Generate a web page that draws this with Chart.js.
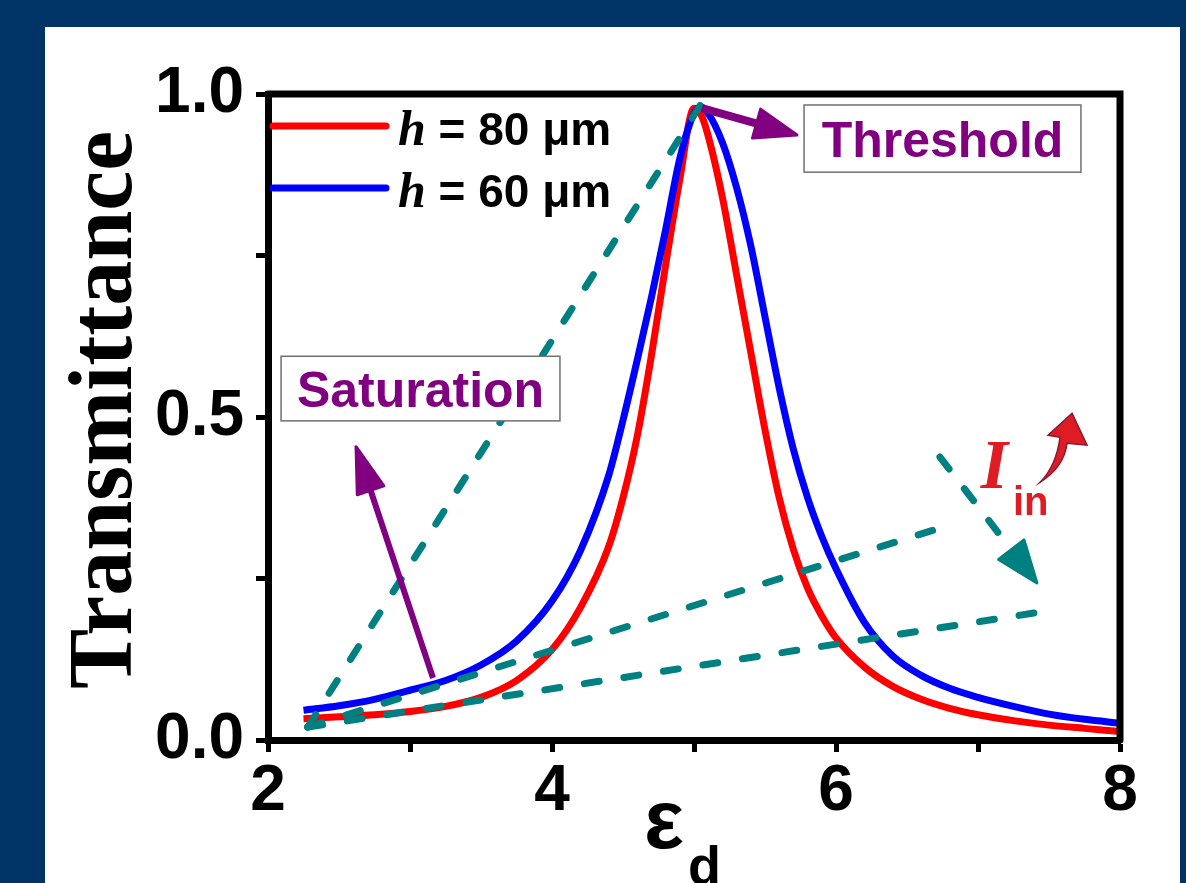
<!DOCTYPE html>
<html>
<head>
<meta charset="utf-8">
<script src="https://cdn.jsdelivr.net/npm/chart.js@4.4.1/dist/chart.umd.min.js"></script>
<style>
  html, body { margin: 0; padding: 0; background: #003366; }
  canvas { display: block; }
</style>
</head>
<body>
<canvas id="chart" width="1186" height="883"></canvas>
<script>
// permittivity of the defect layer (x axis)
const epsD = [2.25, 2.5, 2.75, 3.0, 3.25, 3.5, 3.75, 4.0, 4.2, 4.4, 4.5, 4.6, 4.7, 4.8, 4.9, 5.0, 5.05, 5.1, 5.2, 5.3, 5.4, 5.5, 5.6, 5.7, 5.8, 5.9, 6.0, 6.2, 6.4, 6.6, 6.8, 7.0, 7.25, 7.5, 7.75, 8.0];
// transmittance, h = 80 um
const trans80 = [0.033, 0.036, 0.039, 0.044, 0.052, 0.066, 0.092, 0.140, 0.205, 0.300, 0.375, 0.470, 0.595, 0.735, 0.868, 0.978, 0.968, 0.935, 0.840, 0.720, 0.600, 0.480, 0.375, 0.295, 0.235, 0.192, 0.158, 0.113, 0.083, 0.063, 0.049, 0.039, 0.030, 0.023, 0.018, 0.013];
// transmittance, h = 60 um
const trans60 = [0.046, 0.053, 0.063, 0.077, 0.092, 0.116, 0.153, 0.215, 0.293, 0.410, 0.495, 0.588, 0.685, 0.790, 0.900, 0.970, 0.980, 0.970, 0.925, 0.855, 0.765, 0.655, 0.545, 0.450, 0.375, 0.315, 0.265, 0.182, 0.130, 0.100, 0.080, 0.066, 0.052, 0.040, 0.032, 0.026];

const seriesNames = ['80', '60'];
const xTickLabels = [2, 4, 6, 8];
const yTickLabels = [0, 0.5, 1];

// dashed guide lines, all from one corner
const guideStart = [2.28, 0.02];
const guideEnds = [[5.08, 0.995], [6.775, 0.331], [7.437, 0.198]];

// arrows [x1, y1, x2, y2] in data units
const saturationArrow = [3.162, 0.096, 2.62, 0.454];
const thresholdArrow = [5.056, 0.978, 5.725, 0.9365];
const intensityArrow = [6.732, 0.438, 7.415, 0.243];

const RED = '#ff0000', BLUE = '#0000ff', TEAL = '#008080', PURPLE = '#800080';
const SANS = '"Liberation Sans", Arial, sans-serif';
const SERIF = '"Liberation Serif", "Times New Roman", serif';
const DASH = [15, 25];

function pts(xs, ys) {
  return xs.map((x, i) => ({ x: x, y: ys[i] }));
}

const guideSets = guideEnds.map(e => ({
  data: [{ x: guideStart[0], y: guideStart[1] }, { x: e[0], y: e[1] }],
  borderColor: TEAL,
  borderWidth: 7,
  borderDash: DASH,
  borderCapStyle: 'round',
  pointRadius: 0,
  fill: false
}));

const panelBg = {
  id: 'panelBg',
  beforeDraw(chart) {
    const ctx = chart.ctx;
    ctx.save();
    ctx.fillStyle = '#003366';
    ctx.fillRect(0, 0, chart.width, chart.height);
    ctx.fillStyle = '#ffffff';
    ctx.fillRect(45, 27, 1135, 856);
    ctx.restore();
  }
};

function arrow(ctx, x1, y1, x2, y2, color, width, headLen, headW, dash) {
  const ang = Math.atan2(y2 - y1, x2 - x1);
  const bx = x2 - headLen * Math.cos(ang);
  const by = y2 - headLen * Math.sin(ang);
  ctx.save();
  ctx.strokeStyle = color;
  ctx.fillStyle = color;
  ctx.lineWidth = width;
  if (dash) {
    ctx.setLineDash(dash);
    ctx.lineCap = 'round';
  }
  ctx.beginPath();
  ctx.moveTo(x1, y1);
  ctx.lineTo(bx + 4 * Math.cos(ang), by + 4 * Math.sin(ang));
  ctx.stroke();
  ctx.setLineDash([]);
  ctx.lineJoin = 'round';
  ctx.lineWidth = 3;
  ctx.beginPath();
  ctx.moveTo(x2, y2);
  ctx.lineTo(bx + headW / 2 * Math.sin(ang), by - headW / 2 * Math.cos(ang));
  ctx.lineTo(bx - headW / 2 * Math.sin(ang), by + headW / 2 * Math.cos(ang));
  ctx.closePath();
  ctx.fill();
  ctx.stroke();
  ctx.restore();
}

function labelBox(ctx, text, x1, y1, x2, y2) {
  ctx.save();
  ctx.fillStyle = '#ffffff';
  ctx.fillRect(x1, y1, x2 - x1, y2 - y1);
  ctx.strokeStyle = '#707070';
  ctx.lineWidth = 1.5;
  ctx.strokeRect(x1, y1, x2 - x1, y2 - y1);
  ctx.fillStyle = PURPLE;
  ctx.font = 'bold 50px ' + SANS;
  ctx.textAlign = 'center';
  ctx.textBaseline = 'alphabetic';
  ctx.fillText(text, (x1 + x2) / 2, (y1 + y2) / 2 + 18);
  ctx.restore();
}

const annotations = {
  id: 'annotations',
  afterDraw(chart) {
    const ctx = chart.ctx;
    const xs = chart.scales.x, ys = chart.scales.y;
    const a = chart.chartArea;
    const px = v => xs.getPixelForValue(v);
    const py = v => ys.getPixelForValue(v);

    // frame on top and right
    ctx.save();
    ctx.strokeStyle = '#000';
    ctx.lineWidth = 7;
    ctx.lineCap = 'round';
    ctx.beginPath();
    ctx.moveTo(a.left, a.top);
    ctx.lineTo(a.right, a.top);
    ctx.lineTo(a.right, a.bottom);
    ctx.stroke();
    ctx.restore();

    // arrows
    arrow(ctx, px(saturationArrow[0]), py(saturationArrow[1]), px(saturationArrow[2]), py(saturationArrow[3]), PURPLE, 6, 46, 28);
    arrow(ctx, px(thresholdArrow[0]), py(thresholdArrow[1]), px(thresholdArrow[2]), py(thresholdArrow[3]), PURPLE, 8, 42, 30);
    arrow(ctx, px(intensityArrow[0]), py(intensityArrow[1]), px(intensityArrow[2]), py(intensityArrow[3]), TEAL, 7, 42, 32, DASH);

    // text boxes
    labelBox(ctx, 'Threshold', px(5.775), py(0.983), px(7.725), py(0.879));
    labelBox(ctx, 'Saturation', px(2.092), py(0.594), px(4.056), py(0.494));

    // legend
    const colors = [RED, BLUE];
    seriesNames.forEach((n, i) => {
      const y = a.top + 32 + i * 62;
      ctx.save();
      ctx.strokeStyle = colors[i];
      ctx.lineWidth = 7;
      ctx.lineCap = 'round';
      ctx.beginPath();
      ctx.moveTo(a.left + 5, y);
      ctx.lineTo(a.left + 118, y);
      ctx.stroke();
      ctx.fillStyle = '#000';
      ctx.textBaseline = 'alphabetic';
      ctx.font = 'italic bold 50px ' + SERIF;
      ctx.fillText('h', a.left + 130, y + 19);
      const w = ctx.measureText('h').width;
      ctx.font = 'bold 46px ' + SANS;
      ctx.fillText(' = ' + n + ' \u03bcm', a.left + 130 + w, y + 19);
      ctx.restore();
    });

    // I_in with curved arrow
    ctx.save();
    ctx.fillStyle = '#dd1c24';
    ctx.font = 'italic bold 70px ' + SERIF;
    ctx.fillText('I', px(7.02), py(0.39));
    ctx.font = 'bold 40px ' + SANS;
    ctx.fillText('in', px(7.246), py(0.348));
    const bx = px(7.437), by = py(0.399);
    ctx.translate(bx, by);
    ctx.beginPath();
    ctx.moveTo(0, 0);
    ctx.quadraticCurveTo(24, -15, 27, -39);
    ctx.lineTo(47, -37);
    ctx.lineTo(32, -69);
    ctx.lineTo(8, -47);
    ctx.lineTo(20, -45);
    ctx.quadraticCurveTo(16, -16, 0, 0);
    ctx.closePath();
    ctx.fill();
    ctx.strokeStyle = '#8a1838';
    ctx.lineWidth = 1.5;
    ctx.stroke();
    ctx.restore();

    // axis titles
    ctx.save();
    ctx.fillStyle = '#000';
    ctx.font = 'bold 90px ' + SERIF;
    ctx.textAlign = 'center';
    ctx.textBaseline = 'alphabetic';
    ctx.translate(131, 410);
    ctx.rotate(-Math.PI / 2);
    ctx.fillText('Transmittance', 0, 0);
    ctx.restore();

    ctx.save();
    ctx.fillStyle = '#000';
    ctx.textBaseline = 'alphabetic';
    ctx.font = 'bold 84px ' + SANS;
    ctx.fillText('\u03b5', 644, 848);
    ctx.font = 'bold 54px ' + SANS;
    ctx.fillText('d', 688, 884);
    ctx.restore();
  }
};

new Chart(document.getElementById('chart'), {
  type: 'line',
  data: {
    datasets: [
      ...guideSets,
      {
        label: 'h = 60 \u03bcm',
        data: pts(epsD, trans60),
        borderColor: BLUE,
        borderWidth: 7,
        pointRadius: 0,
        cubicInterpolationMode: 'monotone',
        fill: false
      },
      {
        label: 'h = 80 \u03bcm',
        data: pts(epsD, trans80),
        borderColor: RED,
        borderWidth: 7,
        pointRadius: 0,
        cubicInterpolationMode: 'monotone',
        fill: false
      }
    ]
  },
  options: {
    responsive: false,
    animation: false,
    devicePixelRatio: 1,
    layout: { padding: { left: 0, top: 94, right: 66, bottom: 0 } },
    plugins: {
      legend: { display: false },
      tooltip: { enabled: false }
    },
    scales: {
      x: {
        type: 'linear',
        min: 2,
        max: 8,
        afterFit: s => { s.height = 143; },
        ticks: {
          stepSize: 1,
          padding: 2,
          color: '#000',
          font: { family: SANS, size: 64, weight: 'bold' },
          callback: v => xTickLabels.includes(v) ? String(v) : ''
        },
        grid: { drawOnChartArea: false, tickLength: 12, tickWidth: 5, tickColor: '#000' },
        border: { display: true, width: 7, color: '#000' }
      },
      y: {
        min: 0,
        max: 1,
        afterFit: s => { s.width = 268; },
        ticks: {
          stepSize: 0.25,
          padding: 12,
          color: '#000',
          font: { family: SANS, size: 64, weight: 'bold' },
          callback: v => yTickLabels.includes(v) ? v.toFixed(1) : ''
        },
        grid: { drawOnChartArea: false, tickLength: 12, tickWidth: 5, tickColor: '#000' },
        border: { display: true, width: 7, color: '#000' }
      }
    }
  },
  plugins: [panelBg, annotations]
});
</script>
</body>
</html>
